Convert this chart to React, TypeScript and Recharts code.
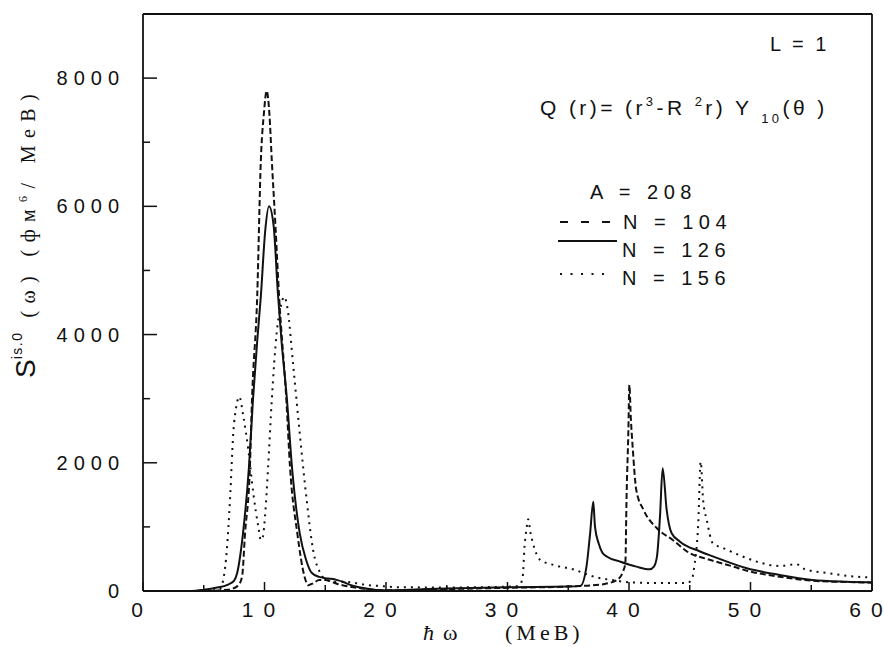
import { LineChart, Line, XAxis, YAxis } from "recharts";

// energy grid (MeV) and strength values, one pair per curve
const n104E = [0, 5, 7, 7.8, 8.15, 8.4, 8.8, 8.97, 9.4, 9.7, 9.95, 10.18, 10.4, 10.6, 10.9, 11.2, 11.8, 12.1, 12.7, 13.3, 13.6, 14, 14.5, 15, 16, 18, 20, 25, 30, 35, 37, 38, 39, 39.5, 39.7, 39.8, 39.95, 40.03, 40.15, 40.3, 40.6, 41.2, 42.3, 43.6, 45, 46.4, 48.6, 49.7, 52.4, 55.1, 57.9, 60];
const n104S = [0, 0, 20, 80, 220, 900, 1935, 2980, 4600, 6720, 7450, 7800, 7450, 6720, 5700, 4600, 2980, 1935, 900, 220, 90, 120, 170, 170, 110, 40, 10, 30, 50, 70, 90, 110, 170, 300, 440, 1470, 2510, 3213, 2700, 2250, 1575, 1264, 978, 796, 590, 500, 380, 317, 223, 160, 140, 130];

const n126E = [0, 4, 5, 6, 7, 7.5, 7.75, 8.0, 8.23, 8.72, 9.05, 9.4, 9.7, 10.05, 10.37, 10.75, 11.1, 11.4, 11.85, 12.26, 12.9, 13.4, 13.9, 14.5, 15, 15.5, 16, 16.5, 17, 18, 19, 20, 22, 25, 30, 35, 36, 36.5, 36.8, 37.06, 37.2, 37.5, 37.8, 38.2, 39.3, 40.6, 41.7, 42.05, 42.3, 42.55, 42.77, 43.1, 43.5, 44.2, 45.8, 46.9, 49.7, 52.4, 55.1, 57.9, 60];
const n126S = [0, 0, 20, 50, 100, 160, 280, 550, 900, 1935, 2980, 3900, 4600, 5600, 6000, 5700, 4650, 3900, 2980, 1935, 900, 500, 280, 220, 200, 190, 170, 140, 100, 50, 20, 10, 20, 40, 60, 70, 80, 380, 900, 1393, 1003, 744, 600, 535, 457, 380, 338, 380, 535, 1160, 1915, 1264, 905, 770, 620, 540, 354, 250, 172, 145, 135];

const n156E = [0, 5, 6.3, 6.6, 6.9, 7.16, 7.43, 7.7, 7.93, 8.26, 8.67, 9.08, 9.49, 9.7, 9.87, 10.04, 10.3, 10.6, 11.0, 11.35, 11.63, 11.9, 12.37, 12.9, 13.47, 14.0, 14.6, 15.1, 16, 16.6, 17.6, 18.5, 19.3, 21, 25, 28, 30.5, 31.0, 31.25, 31.4, 31.55, 31.7, 31.9, 32.1, 32.7, 33.8, 35.4, 37.1, 39.0, 40, 42, 44.8, 45.2, 45.4, 45.7, 45.9, 46.1, 46.4, 46.9, 47.8, 49.4, 50.8, 52.4, 53.8, 54.5, 56.5, 58.7, 60];
const n156S = [0, 0, 30, 170, 640, 1420, 2460, 2900, 3030, 2720, 2200, 1525, 1003, 795, 850, 1160, 1940, 2980, 4020, 4450, 4590, 4400, 3500, 2460, 1420, 640, 276, 170, 140, 145, 120, 90, 80, 60, 55, 60, 70, 90, 223, 690, 950, 1120, 900, 744, 484, 405, 338, 223, 160, 135, 125, 125, 200, 420, 1056, 2017, 1420, 1108, 744, 666, 535, 441, 390, 416, 338, 276, 223, 210];

const energyTicks = [0, 5, 10, 15, 20, 25, 30, 35, 40, 45, 50, 55, 60];
const strengthTicks = [0, 1000, 2000, 3000, 4000, 5000, 6000, 7000, 8000];

const SANS = '"Liberation Sans", Arial, sans-serif';
const SERIF = '"Liberation Serif", "Times New Roman", serif';

const toPoints = (es: number[], ss: number[]) => es.map((e, i) => ({ e, s: ss[i] }));

// spaced-out digits like the typewriter-style labels of the scan, without trailing space
const spaced = (v: number, gap: number) =>
  String(v).split("").map((d, i) => (
    <tspan key={i} dx={i === 0 ? 0 : gap}>{d}</tspan>
  ));

const BottomTick = (props: any) => {
  const { x, y, payload } = props;
  const major = payload.value % 10 === 0;
  return (
    <g>
      <line x1={x} x2={x} y1={y} y2={y - (major ? 9 : 6)} stroke="#111" strokeWidth={1.5} />
      {major && (
        <text x={x - 6} y={y + 26} textAnchor="middle" fontFamily={SANS} fontSize={21} fill="#111">
          {spaced(payload.value, 10)}
        </text>
      )}
    </g>
  );
};

const TopTick = (props: any) => {
  const { x, y } = props;
  return <line x1={x} x2={x} y1={y} y2={y + 6} stroke="#111" strokeWidth={1.5} />;
};

const LeftTick = (props: any) => {
  const { x, y, payload } = props;
  const major = payload.value % 2000 === 0;
  return (
    <g>
      <line x1={x} x2={x + (major ? 14 : 7)} y1={y} y2={y} stroke="#111" strokeWidth={1.5} />
      {major && (
        <text x={x - 24} y={y + 7} textAnchor="end" fontFamily={SANS} fontSize={20} fill="#111">
          {spaced(payload.value, 6)}
        </text>
      )}
    </g>
  );
};

const sup = (t: string, size = 12, lift = -9) => (
  <span style={{ fontSize: size, position: "relative", top: lift }}>{t}</span>
);

export default function App() {
  const axisStroke = { stroke: "#111", strokeWidth: 1.8 };
  return (
    <div style={{ position: "absolute", left: 0, top: 0, width: 884, height: 647, background: "#fff", color: "#111" }}>
      <LineChart width={884} height={647} margin={{ top: 13, right: 11, bottom: 0, left: 0 }}>
        <XAxis xAxisId="b" dataKey="e" type="number" domain={[0, 60]} ticks={energyTicks} height={56}
          axisLine={axisStroke} tickLine={false} tickSize={0} tickMargin={0} tick={<BottomTick />} interval={0} />
        <XAxis xAxisId="t" orientation="top" dataKey="e" type="number" domain={[0, 60]} ticks={energyTicks} height={1}
          axisLine={axisStroke} tickLine={false} tickSize={0} tickMargin={0} tick={<TopTick />} interval={0} />
        <YAxis yAxisId="l" type="number" domain={[0, 9000]} ticks={strengthTicks} width={143}
          axisLine={axisStroke} tickLine={false} tickSize={0} tickMargin={0} tick={<LeftTick />} interval={0} />
        <YAxis yAxisId="r" orientation="right" type="number" domain={[0, 9000]} width={1}
          axisLine={axisStroke} tickLine={false} tick={false} />
        <Line xAxisId="b" yAxisId="l" data={toPoints(n104E, n104S)} dataKey="s" type="monotone" stroke="#111"
          strokeWidth={2} strokeDasharray="6 3" dot={false} isAnimationActive={false} />
        <Line xAxisId="b" yAxisId="l" data={toPoints(n126E, n126S)} dataKey="s" type="monotone" stroke="#111"
          strokeWidth={2} dot={false} isAnimationActive={false} />
        <Line xAxisId="b" yAxisId="l" data={toPoints(n156E, n156S)} dataKey="s" type="monotone" stroke="#111"
          strokeWidth={2} strokeDasharray="2 5" dot={false} isAnimationActive={false} />
      </LineChart>

      {/* annotations */}
      <div style={{ position: "absolute", left: 770, top: 34, fontFamily: SANS, fontSize: 20, lineHeight: "20px", letterSpacing: 3, whiteSpace: "nowrap" }}>
        L = 1
      </div>
      <div style={{ position: "absolute", left: 540, top: 97, fontFamily: SANS, fontSize: 21, lineHeight: "21px", letterSpacing: 3.4, whiteSpace: "nowrap" }}>
        Q (r)= (r{sup("3", 13)}-R {sup("2", 13)}r) Y {sup("10", 13, 8)}(θ )
      </div>

      {/* legend */}
      <div style={{ position: "absolute", left: 590, top: 182, fontFamily: SANS, fontSize: 20, lineHeight: "20px", letterSpacing: 5.5, whiteSpace: "nowrap" }}>
        A = 208
      </div>
      <svg style={{ position: "absolute", left: 556, top: 212 }} width={62} height={70}>
        <line x1={4} x2={58} y1={10} y2={10} stroke="#111" strokeWidth={2} strokeDasharray="8 13" />
        <line x1={2} x2={61} y1={29} y2={29} stroke="#111" strokeWidth={2} />
        <line x1={4} x2={52} y1={62} y2={62} stroke="#111" strokeWidth={2} strokeDasharray="2 8.5" />
      </svg>
      {[
        { label: "N = 104", left: 623, top: 212 },
        { label: "N = 126", left: 622, top: 240 },
        { label: "N = 156", left: 622, top: 268 },
      ].map((r) => (
        <div key={r.label} style={{ position: "absolute", left: r.left, top: r.top, fontFamily: SANS, fontSize: 20, lineHeight: "20px", letterSpacing: 5.5, whiteSpace: "nowrap" }}>
          {r.label}
        </div>
      ))}

      {/* axis titles */}
      <div style={{ position: "absolute", left: 423, top: 622, fontFamily: SERIF, fontSize: 22, lineHeight: "22px", whiteSpace: "nowrap" }}>
        <i>ħ</i>
        <span style={{ marginLeft: 9 }}>ω</span>
      </div>
      <div style={{ position: "absolute", left: 505, top: 622, fontFamily: SERIF, fontSize: 22, lineHeight: "22px", letterSpacing: 4, whiteSpace: "nowrap" }}>
        (MeB)
      </div>
      <div style={{ position: "absolute", left: 12, top: 378, transform: "rotate(-90deg)", transformOrigin: "0 0", lineHeight: "28px", whiteSpace: "nowrap" }}>
        <span style={{ fontFamily: SANS, fontSize: 28 }}>S</span>
        <span style={{ fontFamily: SANS, fontSize: 14, position: "relative", top: -13, letterSpacing: 1.5 }}>is.0</span>
        <span style={{ fontFamily: SERIF, fontSize: 20, letterSpacing: 7.4, marginLeft: 14 }}>
          (ω) (фм{sup("6", 12, -8)}/ MeB)
        </span>
      </div>
    </div>
  );
}
